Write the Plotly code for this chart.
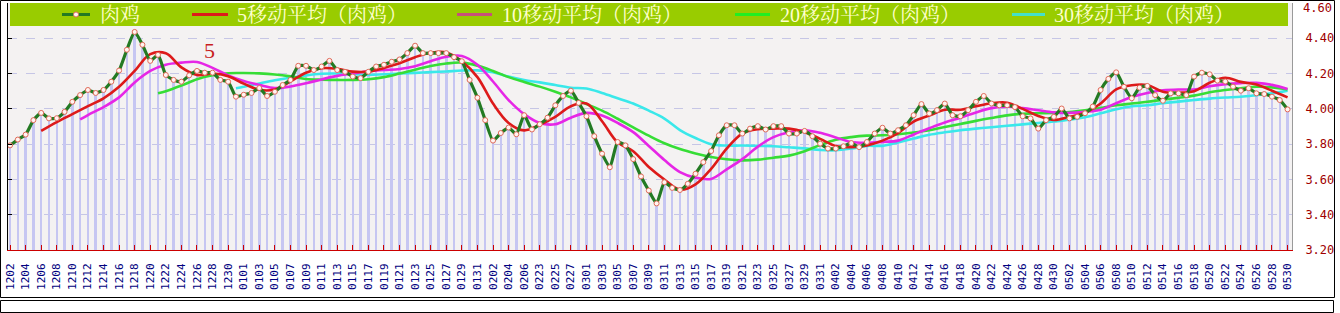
import plotly.graph_objects as go

# ---------------- data ----------------
tick_labels = [
    "1202", "1204", "1206", "1208", "1210", "1212", "1214", "1216", "1218", "1220",
    "1222", "1224", "1226", "1228", "1230",
    "0101", "0103", "0105", "0107", "0109", "0111", "0113", "0115", "0117", "0119",
    "0121", "0123", "0125", "0127", "0129", "0131",
    "0202", "0204", "0206", "0223", "0225", "0227",
    "0301", "0303", "0305", "0307", "0309", "0311", "0313", "0315", "0317", "0319",
    "0321", "0323", "0325", "0327", "0329", "0331",
    "0402", "0404", "0406", "0408", "0410", "0412", "0414", "0416", "0418", "0420",
    "0422", "0424", "0426", "0428", "0430",
    "0502", "0504", "0506", "0508", "0510", "0512", "0514", "0516", "0518", "0520",
    "0522", "0524", "0526", "0528", "0530",
]

raw = [
    3.793, 3.826, 3.854, 3.936, 3.977, 3.946, 3.947, 3.983, 4.040, 4.078,
    4.107, 4.090, 4.107, 4.154, 4.217, 4.335, 4.436, 4.363, 4.272, 4.306,
    4.192, 4.164, 4.154, 4.190, 4.215, 4.205, 4.205, 4.164, 4.154, 4.069,
    4.080, 4.090, 4.118, 4.073, 4.097, 4.135, 4.164, 4.244, 4.244, 4.220,
    4.240, 4.272, 4.220, 4.210, 4.183, 4.174, 4.210, 4.240, 4.250, 4.267,
    4.280, 4.316, 4.358, 4.316, 4.316, 4.316, 4.316, 4.293, 4.270, 4.164,
    4.063, 3.936, 3.820, 3.863, 3.894, 3.856, 3.964, 3.883, 3.913, 3.950,
    4.020, 4.073, 4.103, 4.034, 3.958, 3.845, 3.746, 3.669, 3.812, 3.793,
    3.715, 3.617, 3.537, 3.464, 3.584, 3.552, 3.540, 3.575, 3.632, 3.698,
    3.761, 3.850, 3.907, 3.907, 3.860, 3.888, 3.902, 3.883, 3.902, 3.902,
    3.860, 3.860, 3.875, 3.845, 3.803, 3.775, 3.775, 3.788, 3.806, 3.783,
    3.812, 3.860, 3.893, 3.860, 3.879, 3.907, 3.964, 4.027, 3.974, 3.993,
    4.030, 3.964, 3.958, 3.993, 4.040, 4.073, 4.030, 4.020, 4.020, 4.010,
    3.958, 3.946, 3.888, 3.936, 3.955, 4.002, 3.946, 3.955, 3.975, 4.013,
    4.107, 4.170, 4.207, 4.125, 4.060, 4.120, 4.130, 4.078, 4.046, 4.088,
    4.088, 4.078, 4.183, 4.205, 4.196, 4.160, 4.155, 4.126, 4.103, 4.117,
    4.088, 4.084, 4.069, 4.050, 3.997,
]

# moving averages (first point, then every 2nd day)
ma5_idx = list(range(4, 165, 2))
ma5 = [
    3.875, 3.925, 3.970, 4.015, 4.060, 4.125, 4.215, 4.310, 4.315, 4.235,
    4.192, 4.200, 4.185, 4.143, 4.108, 4.110, 4.155, 4.205, 4.230, 4.227,
    4.211, 4.211, 4.232, 4.258, 4.293, 4.318, 4.320, 4.270, 4.180, 4.030,
    3.920, 3.878, 3.910, 3.955, 4.015, 4.030, 3.930, 3.810, 3.760, 3.670,
    3.600, 3.542, 3.572, 3.660, 3.775, 3.860, 3.885, 3.888, 3.888, 3.868,
    3.830, 3.790, 3.783, 3.793, 3.820, 3.863, 3.928, 3.962, 3.995, 3.995,
    4.015, 4.032, 4.035, 4.000, 3.960, 3.937, 3.955, 3.978, 4.030, 4.110,
    4.134, 4.135, 4.097, 4.092, 4.100, 4.148, 4.176, 4.153, 4.138, 4.103,
    4.065,
]

ma10_idx = [9] + list(range(10, 165, 2))
ma10 = [
    3.940,
    3.965, 4.010, 4.065, 4.150, 4.215, 4.250, 4.262, 4.266, 4.232, 4.190,
    4.158, 4.136, 4.118, 4.127, 4.145, 4.167, 4.187, 4.200, 4.213, 4.220,
    4.226, 4.242, 4.270, 4.295, 4.300, 4.250, 4.155, 4.050, 3.970, 3.920,
    3.913, 3.950, 3.977, 3.962, 3.920, 3.868, 3.790, 3.710, 3.642, 3.610,
    3.603, 3.657, 3.715, 3.786, 3.840, 3.868, 3.878, 3.864, 3.838, 3.812,
    3.808, 3.813, 3.820, 3.855, 3.890, 3.923, 3.950, 3.980, 4.004, 4.012,
    4.004, 3.992, 3.980, 3.977, 3.983, 3.995, 4.032, 4.067, 4.090, 4.105,
    4.110, 4.110, 4.128, 4.140, 4.146, 4.147, 4.136, 4.112,
]

ma20_idx = [19] + list(range(20, 165, 2))
ma20 = [
    4.088,
    4.100, 4.132, 4.168, 4.190, 4.202, 4.203, 4.201, 4.195, 4.184, 4.169,
    4.165, 4.164, 4.164, 4.168, 4.180, 4.200, 4.222, 4.243, 4.257, 4.262,
    4.245, 4.215, 4.180, 4.152, 4.126, 4.097, 4.065, 4.027, 3.990, 3.944,
    3.895, 3.848, 3.805, 3.772, 3.747, 3.727, 3.714, 3.708, 3.712, 3.723,
    3.735, 3.760, 3.795, 3.825, 3.840, 3.848, 3.850, 3.856, 3.866, 3.879,
    3.897, 3.914, 3.932, 3.948, 3.963, 3.972, 3.975, 3.977, 3.982, 3.992,
    4.005, 4.020, 4.030, 4.040, 4.052, 4.063, 4.075, 4.094, 4.107, 4.117,
    4.125, 4.122, 4.110,
]

ma30_idx = [29] + list(range(30, 165, 2))
ma30 = [
    4.117,
    4.125, 4.144, 4.162, 4.176, 4.190, 4.199, 4.200, 4.196, 4.192, 4.196,
    4.200, 4.204, 4.208, 4.212, 4.217, 4.218, 4.208, 4.183, 4.163, 4.150,
    4.135, 4.120, 4.115, 4.090, 4.060, 4.030, 3.990, 3.945, 3.880, 3.835,
    3.800, 3.792, 3.792, 3.790, 3.788, 3.782, 3.776, 3.767, 3.765, 3.775,
    3.790, 3.790, 3.810, 3.832, 3.853, 3.867, 3.879, 3.888, 3.896, 3.904,
    3.912, 3.920, 3.928, 3.938, 3.953, 3.975, 3.998, 4.015, 4.020, 4.032,
    4.041, 4.050, 4.058, 4.064, 4.069, 4.078, 4.088, 4.103,
]

legend_names = ["肉鸡", "5移动平均（肉鸡）", "10移动平均（肉鸡）",
                "20移动平均（肉鸡）", "30移动平均（肉鸡）"]

assert len(raw) == 165
assert len(ma5) == len(ma5_idx)
assert len(ma10) == len(ma10_idx)
assert len(ma20) == len(ma20_idx)
assert len(ma30) == len(ma30_idx)

# ---------------- style ----------------
W, H = 1340, 313
L, R, T, B = 8, 48, 3, 63
PW, PH = W - L - R, H - T - B

def px(x):
    return (x - L) / PW

def py(y):
    return (H - B - y) / PH

C_RAW = "#237a23"
C_MA5 = "#dd1a1a"
C_MA10 = "#e626e6"
C_MA20 = "#36dd36"
C_MA30 = "#3ae8ea"
C_BAR = "#c6c6f2"
TICK_FONT = "DejaVu Sans Mono, Liberation Mono, monospace"
LEG_FONT = "Liberation Serif, Noto Serif CJK SC, Noto Sans CJK SC, serif"

x_all = list(range(len(raw)))

fig = go.Figure()
fig.add_trace(go.Bar(x=x_all, y=raw, width=0.32, marker=dict(color=C_BAR, line=dict(width=0)),
                     hoverinfo="skip", showlegend=False))
fig.add_trace(go.Scatter(x=ma30_idx, y=ma30, mode="lines", line=dict(color=C_MA30, width=2.6, shape="spline"),
                         showlegend=False))
fig.add_trace(go.Scatter(x=ma20_idx, y=ma20, mode="lines", line=dict(color=C_MA20, width=2.6, shape="spline"),
                         showlegend=False))
fig.add_trace(go.Scatter(x=ma10_idx, y=ma10, mode="lines", line=dict(color=C_MA10, width=2.6, shape="spline"),
                         showlegend=False))
fig.add_trace(go.Scatter(x=ma5_idx, y=ma5, mode="lines", line=dict(color=C_MA5, width=2.6, shape="spline"),
                         showlegend=False))
fig.add_trace(go.Scatter(x=x_all, y=raw, mode="lines+markers",
                         line=dict(color=C_RAW, width=3.2, shape="spline", smoothing=0.5),
                         marker=dict(symbol="circle", size=5, color="#fff4f0",
                                     line=dict(color="#e06a5a", width=1)),
                         showlegend=False))

shapes = []
# outer frame
shapes.append(dict(type="rect", xref="paper", yref="paper",
                   x0=px(0.5), x1=px(1334.5), y0=py(297.5), y1=py(0.5),
                   line=dict(color="black", width=1), layer="above"))
# bottom strip
shapes.append(dict(type="rect", xref="paper", yref="paper",
                   x0=px(0.5), x1=px(1333.5), y0=py(312.5), y1=py(300.5),
                   line=dict(color="black", width=1), layer="above"))
# legend band
shapes.append(dict(type="rect", xref="paper", yref="paper",
                   x0=px(10), x1=px(1288), y0=py(26), y1=py(3),
                   fillcolor="#99cc00", line=dict(width=0), layer="above"))

leg_cols = [C_RAW, C_MA5, "#c8507a", "#22ee22", "#44e0c8"]
leg_sym = [(62, 90), (192, 228), (457, 492), (735, 770), (1012, 1045)]
leg_txt = [98, 235, 500, 778, 1052]
LEG_Y = 14.5
for (a, b), c in zip(leg_sym, leg_cols):
    shapes.append(dict(type="line", xref="paper", yref="paper",
                       x0=px(a), x1=px(b), y0=py(LEG_Y), y1=py(LEG_Y),
                       line=dict(color=c, width=3), layer="above"))
shapes.append(dict(type="circle", xref="paper", yref="paper",
                   x0=px(73.5), x1=px(78.5), y0=py(LEG_Y + 2.5), y1=py(LEG_Y - 2.5),
                   fillcolor="#fff4f0", line=dict(color="#e06a5a", width=1), layer="above"))

annotations = []
for name, xt in zip(legend_names, leg_txt):
    annotations.append(dict(text=name, xref="paper", yref="paper", x=px(xt), y=py(LEG_Y),
                            xanchor="left", yanchor="middle", showarrow=False,
                            font=dict(family=LEG_FONT, size=20, color="#ffffcc")))
annotations.append(dict(text="5", xref="paper", yref="paper", x=px(209), y=py(50),
                        xanchor="center", yanchor="middle", showarrow=False,
                        font=dict(family="Liberation Serif, serif", size=22, color="#c81e1e")))
# top tick label, nudged down just enough to stay inside the page
annotations.append(dict(text="4.60", xref="paper", yref="paper", x=px(1302), y=py(0),
                        xanchor="left", yanchor="top", showarrow=False,
                        borderpad=0,
                        font=dict(family=TICK_FONT, size=12, color="#a00000")))

fig.update_layout(
    width=W, height=H,
    margin=dict(l=L, r=R, t=T, b=B, pad=0),
    paper_bgcolor="white",
    plot_bgcolor="#f4f2f2",
    bargap=0,
    showlegend=False,
    shapes=shapes,
    annotations=annotations,
    xaxis=dict(
        range=[-0.26, 164.57],
        tickmode="array",
        tickvals=list(range(0, 165, 2)),
        ticktext=tick_labels,
        tickangle=-90,
        tickfont=dict(family=TICK_FONT, size=11, color="#000080"),
        ticks="inside", ticklen=5, tickcolor="#cc0000", tickwidth=1,
        showline=True, linecolor="#cc0000", linewidth=1,
        showgrid=False, zeroline=False,
        ticklabelstandoff=8,
    ),
    yaxis=dict(
        range=[3.2, 4.6],
        side="right",
        tickmode="array",
        tickvals=[3.2, 3.4, 3.6, 3.8, 4.0, 4.2, 4.4],
        ticktext=["3.20", "3.40", "3.60", "3.80", "4.00", "4.20", "4.40"],
        tickfont=dict(family=TICK_FONT, size=12, color="#a00000"),
        ticks="", showline=True, linecolor="#9a9a9a", linewidth=1,
        showgrid=True, gridcolor="#c6c6e6", griddash="dash", gridwidth=1,
        zeroline=False,
        ticklabelstandoff=10,
    ),
    yaxis2=dict(
        range=[3.2, 4.6], overlaying="y", side="left",
        tickmode="linear", tick0=3.2, dtick=0.2,
        showticklabels=False, ticks="inside", ticklen=4, tickcolor="black",
        showline=True, linecolor="black", linewidth=1,
        showgrid=False, zeroline=False,
    ),
)
# invisible trace to activate the left-hand frame axis
fig.add_trace(go.Scatter(x=[0], y=[3.2], yaxis="y2", mode="markers",
                         marker=dict(opacity=0), hoverinfo="skip", showlegend=False))

fig.write_html("out.html")
